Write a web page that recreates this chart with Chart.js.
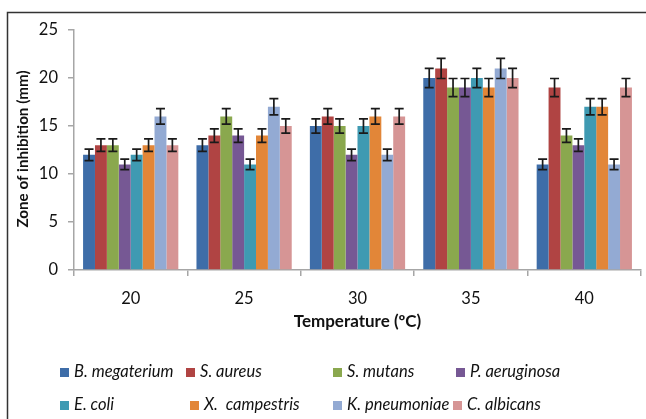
<!DOCTYPE html>
<html>
<head>
<meta charset="utf-8">
<script src="https://cdn.jsdelivr.net/npm/chart.js@4.4.1/dist/chart.umd.min.js"></script>
<style>
  html, body { margin: 0; padding: 0; background: #fff; }
  canvas { display: block; }
</style>
</head>
<body>
<canvas id="chart" width="646" height="419"></canvas>
<script>
// Zone of inhibition vs temperature

const temps = ["20", "25", "30", "35", "40"];
const species = ["B. megaterium", "S. aureus", "S. mutans", "P. aeruginosa",
                 "E. coli", "X.  campestris", "K. pneumoniae", "C. albicans"];

const bMegaterium = [12, 13, 15, 20, 11];
const sAureus     = [13, 14, 16, 21, 19];
const sMutans     = [13, 16, 15, 19, 14];
const pAeruginosa = [11, 14, 12, 19, 13];
const eColi       = [12, 11, 15, 20, 17];
const xCampestris = [13, 14, 16, 19, 17];
const kPneumoniae = [16, 17, 12, 21, 11];
const cAlbicans   = [13, 15, 16, 20, 19];

const bMegateriumErr = [0.6, 0.65, 0.75, 1.0, 0.55];
const sAureusErr     = [0.65, 0.7, 0.8, 1.05, 0.95];
const sMutansErr     = [0.65, 0.8, 0.75, 0.95, 0.7];
const pAeruginosaErr = [0.55, 0.7, 0.6, 0.95, 0.65];
const eColiErr       = [0.6, 0.55, 0.75, 1.0, 0.85];
const xCampestrisErr = [0.65, 0.7, 0.8, 0.95, 0.85];
const kPneumoniaeErr = [0.8, 0.85, 0.6, 1.05, 0.55];
const cAlbicansErr   = [0.65, 0.75, 0.8, 1.0, 0.95];

const values = [bMegaterium, sAureus, sMutans, pAeruginosa, eColi, xCampestris, kPneumoniae, cAlbicans];
const errors = [bMegateriumErr, sAureusErr, sMutansErr, pAeruginosaErr, eColiErr, xCampestrisErr, kPneumoniaeErr, cAlbicansErr];
const colors = ["#3e6da8", "#b04443", "#8aa84e", "#765894", "#3f9ab2", "#e28638", "#93aad3", "#d69595"];

const FONT = "Lato, 'Open Sans', sans-serif";
const AXIS = "#a6a6a6";

const framePlugin = {
  id: "frame",
  beforeDraw(chart) {
    const ctx = chart.ctx;
    ctx.save();
    ctx.fillStyle = "#fff";
    ctx.fillRect(0, 0, chart.width, chart.height);
    ctx.strokeStyle = "#333";
    ctx.lineWidth = 1.5;
    ctx.beginPath();
    ctx.moveTo(7.5, chart.height);
    ctx.lineTo(7.5, 12.5);
    ctx.lineTo(chart.width, 12.5);
    ctx.stroke();
    ctx.restore();
  }
};

const errorBars = {
  id: "errorBars",
  afterDatasetsDraw(chart) {
    const ctx = chart.ctx;
    const y = chart.scales.y;
    ctx.save();
    ctx.strokeStyle = "#1a1a1a";
    ctx.lineWidth = 1.7;
    chart.data.datasets.forEach((ds, i) => {
      chart.getDatasetMeta(i).data.forEach((bar, j) => {
        const v = ds.data[j];
        const e = errors[i][j];
        const top = y.getPixelForValue(v + e);
        const bot = y.getPixelForValue(v - e);
        ctx.beginPath();
        ctx.moveTo(bar.x, top);
        ctx.lineTo(bar.x, bot);
        ctx.moveTo(bar.x - 4.5, top);
        ctx.lineTo(bar.x + 4.5, top);
        ctx.moveTo(bar.x - 4.5, bot);
        ctx.lineTo(bar.x + 4.5, bot);
        ctx.stroke();
      });
    });
    ctx.restore();
  }
};

const titles = {
  id: "titles",
  afterDraw(chart) {
    const ctx = chart.ctx;
    const area = chart.chartArea;
    ctx.save();
    ctx.fillStyle = "#111";
    ctx.textAlign = "center";
    ctx.textBaseline = "middle";
    ctx.font = "bold 17px " + FONT;
    ctx.fillText("Temperature (\u00baC)", (area.left + area.right) / 2, 322);
    ctx.font = "bold 15.2px " + FONT;
    ctx.translate(23, 149);
    ctx.rotate(-Math.PI / 2);
    ctx.fillText("Zone of inhibition (mm)", 0, 0);
    ctx.restore();
  }
};

const legendRows = [372, 405];
const legendCols = [[60, 186, 333, 456], [60, 190, 333, 453]];

const legendPlugin = {
  id: "customLegend",
  afterDraw(chart) {
    const ctx = chart.ctx;
    ctx.save();
    ctx.font = "italic 16.5px " + FONT;
    ctx.textBaseline = "middle";
    ctx.textAlign = "left";
    chart.data.datasets.forEach((ds, i) => {
      const row = Math.floor(i / 4);
      const x = legendCols[row][i % 4];
      const y = legendRows[row];
      ctx.fillStyle = ds.backgroundColor;
      ctx.fillRect(x, y - 4, 9, 9);
      ctx.fillStyle = "#111";
      ctx.fillText(ds.label, x + 14, y);
    });
    ctx.restore();
  }
};

new Chart(document.getElementById("chart"), {
  type: "bar",
  data: {
    labels: temps,
    datasets: species.map((name, i) => ({
      label: name,
      data: values[i],
      backgroundColor: colors[i],
      borderWidth: 0,
      barPercentage: 1.0,
      categoryPercentage: 0.84
    }))
  },
  options: {
    responsive: false,
    animation: false,
    devicePixelRatio: 1,
    layout: { padding: { top: 30, right: 5, left: 0, bottom: 0 } },
    plugins: {
      legend: { display: false },
      tooltip: { enabled: false }
    },
    scales: {
      x: {
        grid: { offset: true, drawOnChartArea: false, drawTicks: true, tickLength: 6, color: AXIS, lineWidth: 1.5 },
        border: { color: AXIS, width: 1.5 },
        ticks: { color: "#111", font: { family: FONT, size: 16.5 }, padding: 13 },
        afterFit: s => { s.height = 149; }
      },
      y: {
        min: 0,
        max: 25,
        grid: { drawOnChartArea: false, drawTicks: true, tickLength: 6, color: AXIS, lineWidth: 1.5 },
        border: { color: AXIS, width: 1.5 },
        ticks: { stepSize: 5, color: "#111", font: { family: FONT, size: 16.5 }, padding: 10 },
        afterFit: s => { s.width = 74; }
      }
    }
  },
  plugins: [framePlugin, errorBars, titles, legendPlugin]
});
</script>
</body>
</html>
